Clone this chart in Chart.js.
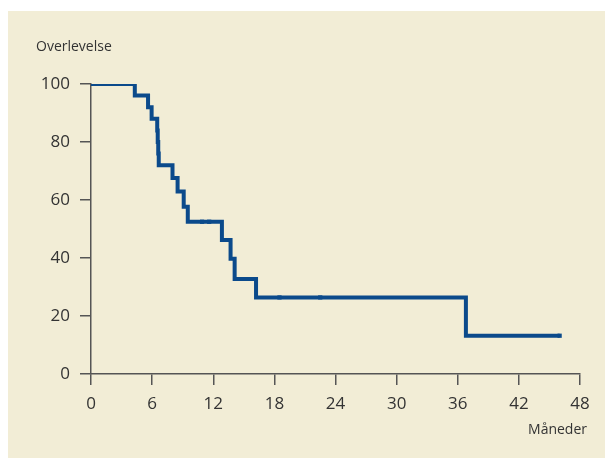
<!DOCTYPE html>
<html>
<head>
<meta charset="utf-8">
<script src="https://cdn.jsdelivr.net/npm/chart.js@4/dist/chart.umd.min.js"></script>
<style>
  html, body { margin: 0; padding: 0; background: #fff; }
  #panel { position: absolute; left: 8px; top: 11px; width: 597px; height: 447px; background: #f2edd6; }
  #wrap { position: absolute; left: 0; top: 0; width: 605px; height: 459px; }
</style>
</head>
<body>
<div id="panel"></div>
<div id="wrap"><canvas id="km" width="605" height="459"></canvas></div>
<script>
// Kaplan-Meier survival, months vs percent
const months   = [0, 4.3, 5.6, 5.95, 6.5, 6.55, 6.6, 6.65, 8.0, 8.5, 9.1, 9.5, 12.85, 13.7, 14.1, 16.2, 36.8, 46.0];
const survival = [100, 96, 92, 88, 84, 80, 76, 72, 67.6, 62.9, 57.7, 52.5, 46.2, 39.7, 32.8, 26.4, 13.2, 13.2];
const censorMonths   = [10.9, 11.6, 18.5, 22.5, 46.0];
const censorSurvival = [52.5, 52.5, 26.4, 26.4, 13.2];
const xTicks = [0, 6, 12, 18, 24, 30, 36, 42, 48];
const yTicks = [0, 20, 40, 60, 80, 100];

const LINE = "#0b4a8b";
const AXIS = "#555555";
const TEXT = "#333333";
const FONT = "'Open Sans', sans-serif";

const curve = months.map((m, i) => ({ x: m, y: survival[i] }));
const censored = censorMonths.map((m, i) => ({ x: m, y: censorSurvival[i] }));

// axis captions drawn as plain text
const captions = {
  id: "captions",
  afterDraw: (chart) => {
    const { ctx } = chart;
    ctx.save();
    ctx.fillStyle = TEXT;
    ctx.font = "14px " + FONT;
    ctx.textBaseline = "middle";
    ctx.textAlign = "left";
    ctx.fillText("Overlevelse", 36, 47);
    ctx.textAlign = "right";
    ctx.fillText("Måneder", 587, 430);
    ctx.restore();
  },
};

new Chart(document.getElementById("km").getContext("2d"), {
  type: "scatter",
  data: {
    datasets: [
      {
        data: curve,
        showLine: true,
        stepped: true,
        borderColor: LINE,
        borderWidth: 4,
        pointRadius: 0,
        borderCapStyle: "butt",
        borderJoinStyle: "miter",
      },
      {
        data: censored,
        showLine: false,
        pointStyle: "rect",
        pointRadius: 3,
        backgroundColor: LINE,
        borderColor: LINE,
        borderWidth: 0,
      },
    ],
  },
  options: {
    responsive: false,
    animation: false,
    devicePixelRatio: 1,
    layout: { padding: { top: 84, right: 25, left: 0, bottom: 0 } },
    plugins: { legend: { display: false }, tooltip: { enabled: false } },
    scales: {
      x: {
        type: "linear",
        min: 0,
        max: 48,
        afterBuildTicks: (axis) => { axis.ticks = xTicks.map((v) => ({ value: v })); },
        afterFit: (axis) => { axis.height = 85; },
        border: { color: AXIS, width: 1.5 },
        grid: { drawOnChartArea: false, color: AXIS, lineWidth: 1.5, tickLength: 11 },
        ticks: { color: TEXT, font: { family: FONT, size: 17 }, padding: 9, maxRotation: 0 },
      },
      y: {
        type: "linear",
        min: 0,
        max: 100,
        afterBuildTicks: (axis) => { axis.ticks = yTicks.map((v) => ({ value: v })); },
        afterFit: (axis) => { axis.width = 91; },
        border: { color: AXIS, width: 1.5 },
        grid: { drawOnChartArea: false, color: AXIS, lineWidth: 1.5, tickLength: 11 },
        ticks: { color: TEXT, font: { family: FONT, size: 17 }, padding: 10 },
      },
    },
  },
  plugins: [captions],
});
</script>
</body>
</html>
